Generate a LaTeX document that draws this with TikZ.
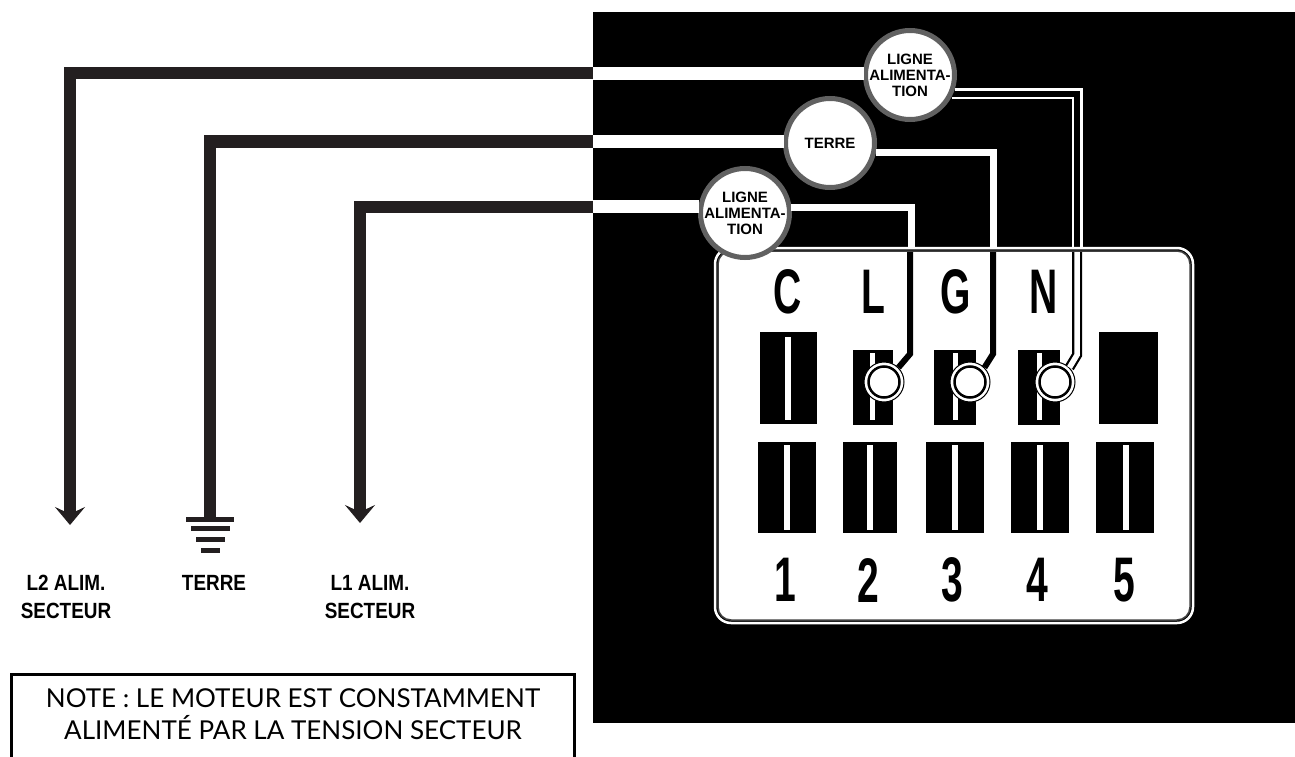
\documentclass[tikz,border=0pt]{standalone}
\usepackage{fontspec}
\setmainfont{Liberation Sans}
\newfontfamily\notefont{Lato}
\usetikzlibrary{arrows.meta}
\definecolor{cablegray}{HTML}{231F20}
\tikzset{
  wirecable/.style={cablegray,line width=12pt},
  whitebar/.style={white,line width=13pt},
  ringlabel/.style={circle,draw=black!62,line width=5pt,fill=white,minimum size=89pt,inner sep=0pt,text width=20pt,align=center,font=\bfseries\fontsize{15}{16}\selectfont},
  lead/.style={black,line width=6pt},
  wirelabel/.style={align=center,font=\bfseries\fontsize{22}{28}\selectfont,xscale=.86},
  tagletter/.style={font=\bfseries\fontsize{63}{63}\selectfont,xscale=.62},
  slotblock/.style={fill=black},
  slotline/.style={white,line width=6pt},
  earthbar/.style={line width=5pt,cablegray},
  screwdisk/.style={circle,draw=black,line width=1pt,fill=white,minimum size=40pt,inner sep=0pt}
}
\newcommand{\ringtext}{\makebox[0pt]{LIGNE}\\\makebox[0pt]{ALIMENTA-}\\\makebox[0pt]{TION}}
\begin{document}
\begin{tikzpicture}[x=1pt,y=-1pt,>={Stealth[length=18pt,width=30pt,inset=7pt]}]
\useasboundingbox (0,0) rectangle (1295,757);
\fill[black] (593,12) rectangle (1295,723);

% terminal panel
\draw[white,line width=2.5pt,rounded corners=16pt] (715,248) rectangle (1193,623);
\draw[black!75,line width=1.5pt,fill=white,rounded corners=13pt] (718,251) rectangle (1190,620);

\node[tagletter] (tagC) at (788,292) {C};
\node[tagletter] (tagL) at (873,292) {L};
\node[tagletter] (tagG) at (956,292) {G};
\node[tagletter] (tagN) at (1044,292) {N};
\foreach \name/\cx/\txt in {num1/785/1,num2/868/2,num3/952/3,num4/1037/4,num5/1124/5}
  \node[tagletter] (\name) at (\cx,580) {\txt};

% upper blocks
\fill[slotblock] (760,332) rectangle (817,424);
\fill[slotblock] (1099,332) rectangle (1158,424);
\foreach \xa/\xb in {853/893,934/976,1018/1060}
  \fill[slotblock] (\xa,350) rectangle (\xb,425);
\draw[slotline] (787.5,337) -- (787.5,420);
\foreach \cx in {872,955,1039}
  \draw[white,line width=5pt] (\cx,353) -- (\cx,420);
% lower blocks
\foreach \xa/\xb/\cx in {758/816/787,843/897/870,926/984/955,1011/1069/1040,1096/1154/1126}{
  \fill[slotblock] (\xa,442) rectangle (\xb,533);
  \draw[slotline] (\cx,445) -- (\cx,530);
}

% screws
\foreach \name/\cx in {screwL/884,screwG/970,screwN/1055}{
  \node[screwdisk] (\name) at (\cx,382) {};
  \draw[black,line width=2.5pt] (\name) circle (15.5);
}

% ring labels
\node[ringlabel] (ringN) at (910,75) {\ringtext};
\node[ringlabel] (ringG) at (830,143) {\makebox[0pt]{TERRE}};
\node[ringlabel] (ringL) at (745,213) {\ringtext};

% joints between the cables and the rings
\coordinate (outN) at (593,73.5);
\coordinate (outG) at (593,141.5);
\coordinate (outL) at (593,206.5);
\draw[whitebar] (outN) -- ([xshift=1pt]ringN.west |- outN);
\draw[whitebar] (outG) -- ([xshift=1pt]ringG.west |- outG);
\draw[whitebar] (outL) -- ([xshift=1pt]ringL.west |- outL);

% leads into the panel
\draw[white,line width=3pt] ([xshift=-2pt]ringN.east |- 0,90) -- (1081.5,90) -- (1081.5,248);
\draw[white,line width=2.5pt] ([xshift=-5pt]ringN.east |- 0,98) -- (1073,98) -- (1073,248);
\draw[white,line width=7pt] ([xshift=-1pt]ringG.east |- 0,152) -- (993.5,152) -- (993.5,248);
\draw[white,line width=7pt] ([xshift=-1pt]ringL.east |- 0,207.5) -- (911,207.5) -- (911,248);
\draw[lead] (910,252) -- (910,354) -- (screwL.45);
\draw[lead] (993,252) -- (993,354) -- (screwG.45);
\draw[black,line width=10pt] (1077,252) -- (1077,355) -- (screwN.45);
\draw[white,line width=5.5pt] (1077,252) -- (1077,355) -- (screwN.45);

% cables to the mains
\coordinate (tipL2) at (70,525);
\coordinate (earthtop) at (210,517);
\coordinate (tipL1) at (360,523);
\draw[wirecable,->] (outN) -- (70,73.5) -- (tipL2);
\draw[wirecable] (outG) -- (210,141.5) -- (earthtop);
\draw[wirecable,->] (outL) -- (360,206.5) -- (tipL1);

\draw[earthbar] (186,519.5) -- (234,519.5);
\draw[earthbar] (191,528.5) -- (230,528.5);
\draw[earthbar] (196,539.5) -- (225,539.5);
\draw[earthbar] (201,550) -- (220,550);

\node[wirelabel] (labelL2) at (66,597) {L2 ALIM.\\SECTEUR};
\node[wirelabel] (labelE) at (214,583) {TERRE};
\node[wirelabel] (labelL1) at (370,597) {L1 ALIM.\\SECTEUR};

% note
\draw[line width=3pt] (11,757) -- (11,674) -- (574,674) -- (574,757);
\node[align=center,font=\notefont\fontsize{26}{32}\selectfont] (noteText) at (293,714) {NOTE : LE MOTEUR EST CONSTAMMENT\\ALIMENTÉ PAR LA TENSION SECTEUR};
\end{tikzpicture}
\end{document}
